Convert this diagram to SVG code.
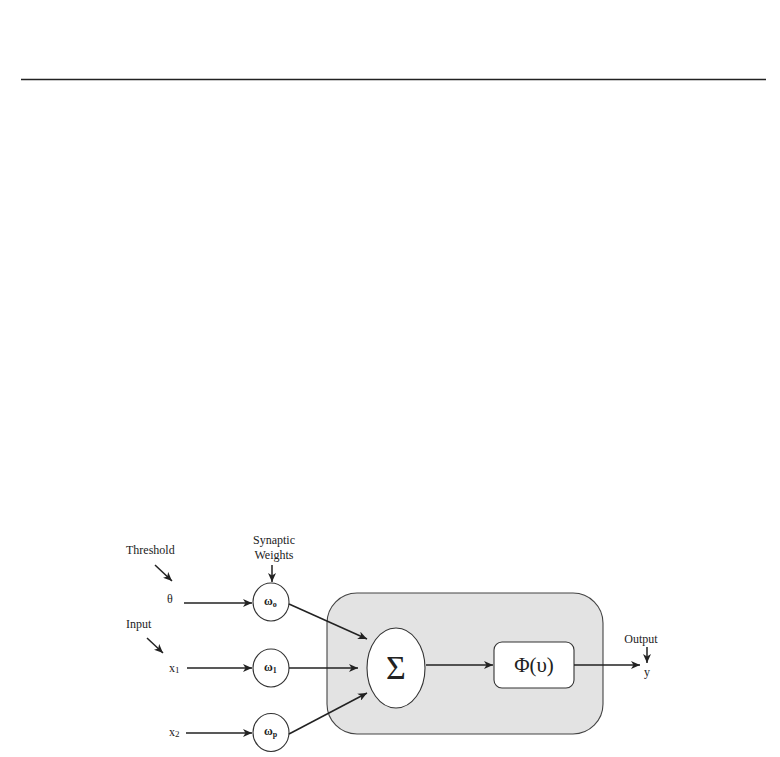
<svg xmlns="http://www.w3.org/2000/svg" width="780" height="757" viewBox="0 0 780 757">
<style>
  text { font-family: "Liberation Serif", "Times New Roman", serif; fill: #222; }
  .lbl { font-size: 12px; }
  .w { font-size: 12px; font-weight: bold; }
  .conn { stroke: #222; stroke-width: 1.5; fill: none; marker-end: url(#ah); }
  .node { fill: #fff; stroke: #333; stroke-width: 1.1; }
</style>
<defs>
  <marker id="ah" markerUnits="userSpaceOnUse" markerWidth="10" markerHeight="8" refX="9" refY="4" orient="auto">
    <path d="M0,0 L9,4 L0,8 L2.5,4 z" fill="#222"/>
  </marker>
</defs>
<rect width="780" height="757" fill="#fff"/>
<line x1="21" y1="79.5" x2="766" y2="79.5" stroke="#222" stroke-width="1.3"/>

<g id="box">
  <rect x="327" y="593" width="276" height="141" rx="30" ry="30" fill="#e3e3e3" stroke="#444" stroke-width="1.1"/>
</g>

<g id="labels">
  <text class="lbl" x="126" y="554">Threshold</text>
  <text class="lbl" x="126" y="628">Input</text>
  <text class="lbl" x="274" y="544" text-anchor="middle">Synaptic</text>
  <text class="lbl" x="274" y="559" text-anchor="middle">Weights</text>
  <text class="lbl" x="641" y="643" text-anchor="middle">Output</text>
  <text class="lbl" x="167" y="603">θ</text>
  <text class="lbl" x="169" y="672">x<tspan font-size="9" dy="1">1</tspan></text>
  <text class="lbl" x="169" y="736">x<tspan font-size="9" dy="1">2</tspan></text>
  <text class="lbl" x="647" y="676" text-anchor="middle">y</text>
</g>

<g id="w0">
  <ellipse class="node" cx="271" cy="602" rx="18" ry="19"/>
  <text class="w" x="264" y="605">ω<tspan font-size="8" dy="2">o</tspan></text>
</g>
<g id="w1">
  <ellipse class="node" cx="271" cy="668" rx="18" ry="19"/>
  <text class="w" x="264" y="671">ω<tspan font-size="8" dy="2">1</tspan></text>
</g>
<g id="wp">
  <ellipse class="node" cx="271" cy="732.5" rx="18" ry="19"/>
  <text class="w" x="264" y="735">ω<tspan font-size="8" dy="2">p</tspan></text>
</g>

<g id="sum">
  <ellipse class="node" cx="396" cy="668" rx="29" ry="40"/>
  <text x="396" y="679" font-size="34" text-anchor="middle">Σ</text>
</g>

<g id="phi">
  <rect class="node" x="494" y="642" width="80" height="46" rx="8" ry="8"/>
  <text x="534" y="672" font-size="21" text-anchor="middle">Φ(υ)</text>
</g>

<g id="connectors">
  <line class="conn" x1="155" y1="565" x2="172" y2="581"/>
  <line class="conn" x1="147" y1="638" x2="163" y2="653"/>
  <line class="conn" x1="272" y1="565" x2="272" y2="582"/>
  <line class="conn" x1="647" y1="647" x2="647" y2="663"/>
  <line class="conn" x1="184" y1="603" x2="252" y2="603"/>
  <line class="conn" x1="187" y1="668" x2="252" y2="668"/>
  <line class="conn" x1="186" y1="733" x2="252" y2="733"/>
  <line class="conn" x1="289" y1="604" x2="367" y2="639"/>
  <line class="conn" x1="289" y1="668" x2="358" y2="668"/>
  <line class="conn" x1="289" y1="734" x2="367" y2="693"/>
  <line class="conn" x1="426" y1="665" x2="493" y2="665"/>
  <line class="conn" x1="574" y1="665" x2="640" y2="665"/>
</g>
</svg>
